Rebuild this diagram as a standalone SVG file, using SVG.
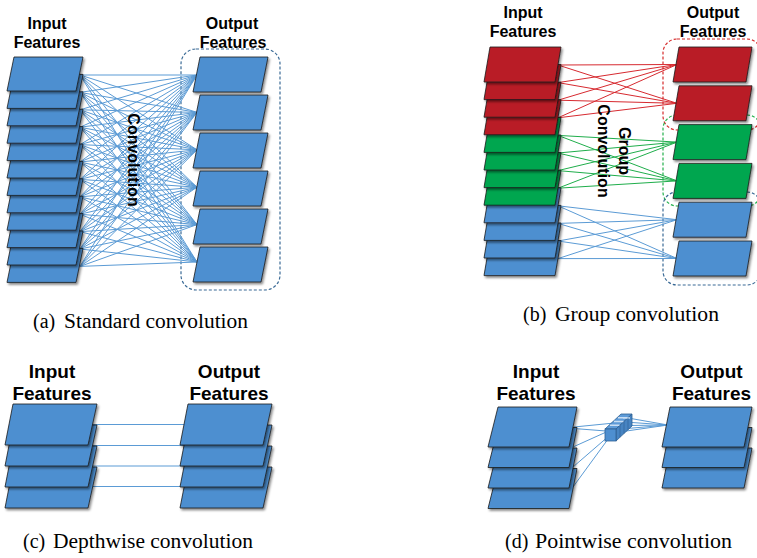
<svg xmlns="http://www.w3.org/2000/svg" xmlns:xlink="http://www.w3.org/1999/xlink" width="757" height="558" viewBox="0 0 757 558">
<style>
.sheet{stroke:#1b1b1b;stroke-width:0.8;filter:url(#sh)}
.blue{fill:#4e8fd0}.red{fill:#b91d25}.green{fill:#00a650}
.lbl{font-family:"Liberation Sans",Arial,sans-serif;font-weight:bold;text-anchor:middle;fill:#000}
.s16{font-size:16px}.s19{font-size:19px}
.cap{font-family:"Liberation Serif","Times New Roman",serif;font-size:20px;fill:#000}
.cb{stroke:#5b9bd5;stroke-width:1;fill:none}
.cr{stroke:#d72a30;stroke-width:1;fill:none}
.cg{stroke:#1fae4b;stroke-width:1;fill:none}
.box{fill:none;stroke-dasharray:3 2;stroke-width:1.2}
</style>
<defs>
<filter id="sh" x="-10%" y="-10%" width="130%" height="150%"><feDropShadow dx="1.5" dy="2" stdDeviation="1.2" flood-color="#000" flood-opacity="0.45"/></filter>
<polygon id="pa" points="7,34 14,0 83,0 76,34"/>
<polygon id="pao" points="0,35 7,0 75,0 68,35"/>
<polygon id="pb" points="0,35 6,0 77,0 71,35"/>
<polygon id="pbo" points="0,35 6,0 79,0 73,35"/>
<polygon id="pc" points="0,41 8,0 92,0 83,41"/>
<polygon id="pd" points="0,40 10,0 89,0 81,40"/>
<polygon id="pdo" points="0,40 8,0 90,0 82,40"/>
</defs>
<rect width="757" height="558" fill="#fff"/>

<!-- group boxes -->
<g id="boxes">
<rect class="box" x="181" y="49" width="99" height="241" rx="15" stroke="#3a6a96"/>
<rect class="box" x="663" y="39" width="98" height="91" rx="14" stroke="#d62a2a"/>
<rect class="box" x="663" y="115" width="98" height="91" rx="14" stroke="#22b04b"/>
<rect class="box" x="663" y="192" width="98" height="93" rx="14" stroke="#3a6a96"/>
</g>

<g id="connectors">
<path class="cb" d="M80 75L197 75M80 75L197 112.4M80 75L197 149.8M80 75L197 187.2M80 75L197 224.6M80 75L197 262
M80 92.4L197 75M80 92.4L197 112.4M80 92.4L197 149.8M80 92.4L197 187.2M80 92.4L197 224.6M80 92.4L197 262
M80 109.8L197 75M80 109.8L197 112.4M80 109.8L197 149.8M80 109.8L197 187.2M80 109.8L197 224.6M80 109.8L197 262
M80 127.2L197 75M80 127.2L197 112.4M80 127.2L197 149.8M80 127.2L197 187.2M80 127.2L197 224.6M80 127.2L197 262
M80 144.6L197 75M80 144.6L197 112.4M80 144.6L197 149.8M80 144.6L197 187.2M80 144.6L197 224.6M80 144.6L197 262
M80 162L197 75M80 162L197 112.4M80 162L197 149.8M80 162L197 187.2M80 162L197 224.6M80 162L197 262
M80 179.4L197 75M80 179.4L197 112.4M80 179.4L197 149.8M80 179.4L197 187.2M80 179.4L197 224.6M80 179.4L197 262
M80 196.8L197 75M80 196.8L197 112.4M80 196.8L197 149.8M80 196.8L197 187.2M80 196.8L197 224.6M80 196.8L197 262
M80 214.2L197 75M80 214.2L197 112.4M80 214.2L197 149.8M80 214.2L197 187.2M80 214.2L197 224.6M80 214.2L197 262
M80 231.6L197 75M80 231.6L197 112.4M80 231.6L197 149.8M80 231.6L197 187.2M80 231.6L197 224.6M80 231.6L197 262
M80 249L197 75M80 249L197 112.4M80 249L197 149.8M80 249L197 187.2M80 249L197 224.6M80 249L197 262
M80 266.4L197 75M80 266.4L197 112.4M80 266.4L197 149.8M80 266.4L197 187.2M80 266.4L197 224.6M80 266.4L197 262"/>
<path class="cr" d="M558 65L677 64.5M558 65L677 103.3M558 82.6L677 64.5M558 82.6L677 103.3M558 100.2L677 64.5M558 100.2L677 103.3M558 117.8L677 64.5M558 117.8L677 103.3"/>
<path class="cg" d="M558 135.4L677 142.1M558 135.4L677 180.9M558 153L677 142.1M558 153L677 180.9M558 170.6L677 142.1M558 170.6L677 180.9M558 188.2L677 142.1M558 188.2L677 180.9"/>
<path class="cb" d="M558 205.8L677 219.7M558 205.8L677 258.5M558 223.4L677 219.7M558 223.4L677 258.5M558 241L677 219.7M558 241L677 258.5M558 258.6L677 219.7M558 258.6L677 258.5"/>
<path class="cb" d="M90 424.5L188 424.5M90 445.5L188 445.5M90 466L188 466M90 486.5L188 486.5"/>
<path class="cb" d="M574 427L624.5 422M574 428.5L606 431M573 447L620.5 425.6M573 467L616.5 429.4M573 487L612.5 433"/>
<path class="cb" d="M628 418L668 425M624.5 422L668 425M620.5 425.6L668 425M616.5 429.4L668 425M612.5 433L668 425"/>
</g>

<!-- (a) standard convolution -->
<g id="a-in-12"><use href="#pa" x="0" y="248.4" class="sheet blue"/></g>
<g id="a-in-11"><use href="#pa" x="0" y="231" class="sheet blue"/></g>
<g id="a-in-10"><use href="#pa" x="0" y="213.6" class="sheet blue"/></g>
<g id="a-in-9"><use href="#pa" x="0" y="196.2" class="sheet blue"/></g>
<g id="a-in-8"><use href="#pa" x="0" y="178.8" class="sheet blue"/></g>
<g id="a-in-7"><use href="#pa" x="0" y="161.4" class="sheet blue"/></g>
<g id="a-in-6"><use href="#pa" x="0" y="144" class="sheet blue"/></g>
<g id="a-in-5"><use href="#pa" x="0" y="126.6" class="sheet blue"/></g>
<g id="a-in-4"><use href="#pa" x="0" y="109.2" class="sheet blue"/></g>
<g id="a-in-3"><use href="#pa" x="0" y="91.8" class="sheet blue"/></g>
<g id="a-in-2"><use href="#pa" x="0" y="74.4" class="sheet blue"/></g>
<g id="a-in-1"><use href="#pa" x="0" y="57" class="sheet blue"/></g>
<g id="a-out-1"><use href="#pao" x="193" y="57" class="sheet blue"/></g>
<g id="a-out-2"><use href="#pao" x="193" y="95" class="sheet blue"/></g>
<g id="a-out-3"><use href="#pao" x="193" y="133" class="sheet blue"/></g>
<g id="a-out-4"><use href="#pao" x="193" y="171" class="sheet blue"/></g>
<g id="a-out-5"><use href="#pao" x="193" y="209" class="sheet blue"/></g>
<g id="a-out-6"><use href="#pao" x="193" y="247" class="sheet blue"/></g>
<g id="a-labels">
<text class="lbl s16" x="47" y="29">Input</text>
<text class="lbl s16" x="47" y="48">Features</text>
<text class="lbl s16" x="232" y="29">Output</text>
<text class="lbl s16" x="233" y="48">Features</text>
<text class="lbl s16" x="127.5" y="160" transform="rotate(90 127.5 160)">Convolution</text>
<text class="cap" x="33" y="328">(a)</text>
<text class="cap" x="64" y="328" textLength="184" lengthAdjust="spacingAndGlyphs">Standard convolution</text>
</g>

<!-- (b) group convolution -->
<g id="b-in-12"><use href="#pb" x="484" y="240.6" class="sheet blue"/></g>
<g id="b-in-11"><use href="#pb" x="484" y="223" class="sheet blue"/></g>
<g id="b-in-10"><use href="#pb" x="484" y="205.4" class="sheet blue"/></g>
<g id="b-in-9"><use href="#pb" x="484" y="187.8" class="sheet blue"/></g>
<g id="b-in-8"><use href="#pb" x="484" y="170.2" class="sheet green"/></g>
<g id="b-in-7"><use href="#pb" x="484" y="152.6" class="sheet green"/></g>
<g id="b-in-6"><use href="#pb" x="484" y="135" class="sheet green"/></g>
<g id="b-in-5"><use href="#pb" x="484" y="117.4" class="sheet green"/></g>
<g id="b-in-4"><use href="#pb" x="484" y="99.8" class="sheet red"/></g>
<g id="b-in-3"><use href="#pb" x="484" y="82.2" class="sheet red"/></g>
<g id="b-in-2"><use href="#pb" x="484" y="64.6" class="sheet red"/></g>
<g id="b-in-1"><use href="#pb" x="484" y="47" class="sheet red"/></g>
<g id="b-out-1"><use href="#pbo" x="673" y="47" class="sheet red"/></g>
<g id="b-out-2"><use href="#pbo" x="673" y="85.8" class="sheet red"/></g>
<g id="b-out-3"><use href="#pbo" x="673" y="124.6" class="sheet green"/></g>
<g id="b-out-4"><use href="#pbo" x="673" y="163.4" class="sheet green"/></g>
<g id="b-out-5"><use href="#pbo" x="673" y="202.2" class="sheet blue"/></g>
<g id="b-out-6"><use href="#pbo" x="673" y="241" class="sheet blue"/></g>
<g id="b-labels">
<text class="lbl s16" x="523" y="18">Input</text>
<text class="lbl s16" x="523" y="37">Features</text>
<text class="lbl s16" x="713" y="18">Output</text>
<text class="lbl s16" x="713" y="37">Features</text>
<text class="lbl s16" x="619" y="151" transform="rotate(90 619 151)">Group</text>
<text class="lbl s16" x="597.5" y="151" transform="rotate(90 597.5 151)">Convolution</text>
<text class="cap" x="523" y="321">(b)</text>
<text class="cap" x="555" y="321" textLength="164" lengthAdjust="spacingAndGlyphs">Group convolution</text>
</g>

<!-- (c) depthwise convolution -->
<g id="c-in-4"><use href="#pc" x="5" y="467" class="sheet blue"/></g>
<g id="c-in-3"><use href="#pc" x="5" y="446" class="sheet blue"/></g>
<g id="c-in-2"><use href="#pc" x="5" y="425" class="sheet blue"/></g>
<g id="c-in-1"><use href="#pc" x="5" y="404" class="sheet blue"/></g>
<g id="c-out-4"><use href="#pc" x="180" y="467" class="sheet blue"/></g>
<g id="c-out-3"><use href="#pc" x="180" y="446" class="sheet blue"/></g>
<g id="c-out-2"><use href="#pc" x="180" y="425" class="sheet blue"/></g>
<g id="c-out-1"><use href="#pc" x="180" y="404" class="sheet blue"/></g>
<g id="c-labels">
<text class="lbl s19" x="52" y="378">Input</text>
<text class="lbl s19" x="52" y="400">Features</text>
<text class="lbl s19" x="229" y="378">Output</text>
<text class="lbl s19" x="229" y="400">Features</text>
<text class="cap" x="23" y="548">(c)</text>
<text class="cap" x="53" y="548" textLength="200" lengthAdjust="spacingAndGlyphs">Depthwise convolution</text>
</g>

<!-- (d) pointwise convolution -->
<g id="d-in-4"><use href="#pd" x="488" y="468.5" class="sheet blue"/></g>
<g id="d-in-3"><use href="#pd" x="488" y="448" class="sheet blue"/></g>
<g id="d-in-2"><use href="#pd" x="488" y="427.5" class="sheet blue"/></g>
<g id="d-in-1"><use href="#pd" x="488" y="407" class="sheet blue"/></g>
<g id="d-out-3"><use href="#pdo" x="662" y="448" class="sheet blue"/></g>
<g id="d-out-2"><use href="#pdo" x="662" y="427.5" class="sheet blue"/></g>
<g id="d-out-1"><use href="#pdo" x="662" y="407" class="sheet blue"/></g>
<g id="d-kernel">
<polygon points="605,429 616,429 632,414 621,414" fill="#5e9bd8" stroke="#2d5f93" stroke-width="0.8"/>
<polygon points="616,429 632,414 632,426 616,441" fill="#4784c2" stroke="#2d5f93" stroke-width="0.8"/>
<rect x="605" y="429" width="11" height="12" fill="#4e8fd0" stroke="#2d5f93" stroke-width="0.8"/>
<path d="M610 425.2L619.5 425.2M614 421.5L623.5 421.5M618 417.7L627.5 417.7M623 418L630 418" stroke="#c9def3" stroke-width="1.4" fill="none"/>
<path d="M620 425.2L620 437.2M624 421.5L624 433.5M628 417.7L628 429.7" stroke="#2d5f93" stroke-width="0.6" fill="none"/>
</g>
<g id="d-labels">
<text class="lbl s19" x="536" y="378">Input</text>
<text class="lbl s19" x="536" y="400">Features</text>
<text class="lbl s19" x="711.5" y="378">Output</text>
<text class="lbl s19" x="711.5" y="400">Features</text>
<text class="cap" x="505" y="548">(d)</text>
<text class="cap" x="535" y="548" textLength="197" lengthAdjust="spacingAndGlyphs">Pointwise convolution</text>
</g>
</svg>
